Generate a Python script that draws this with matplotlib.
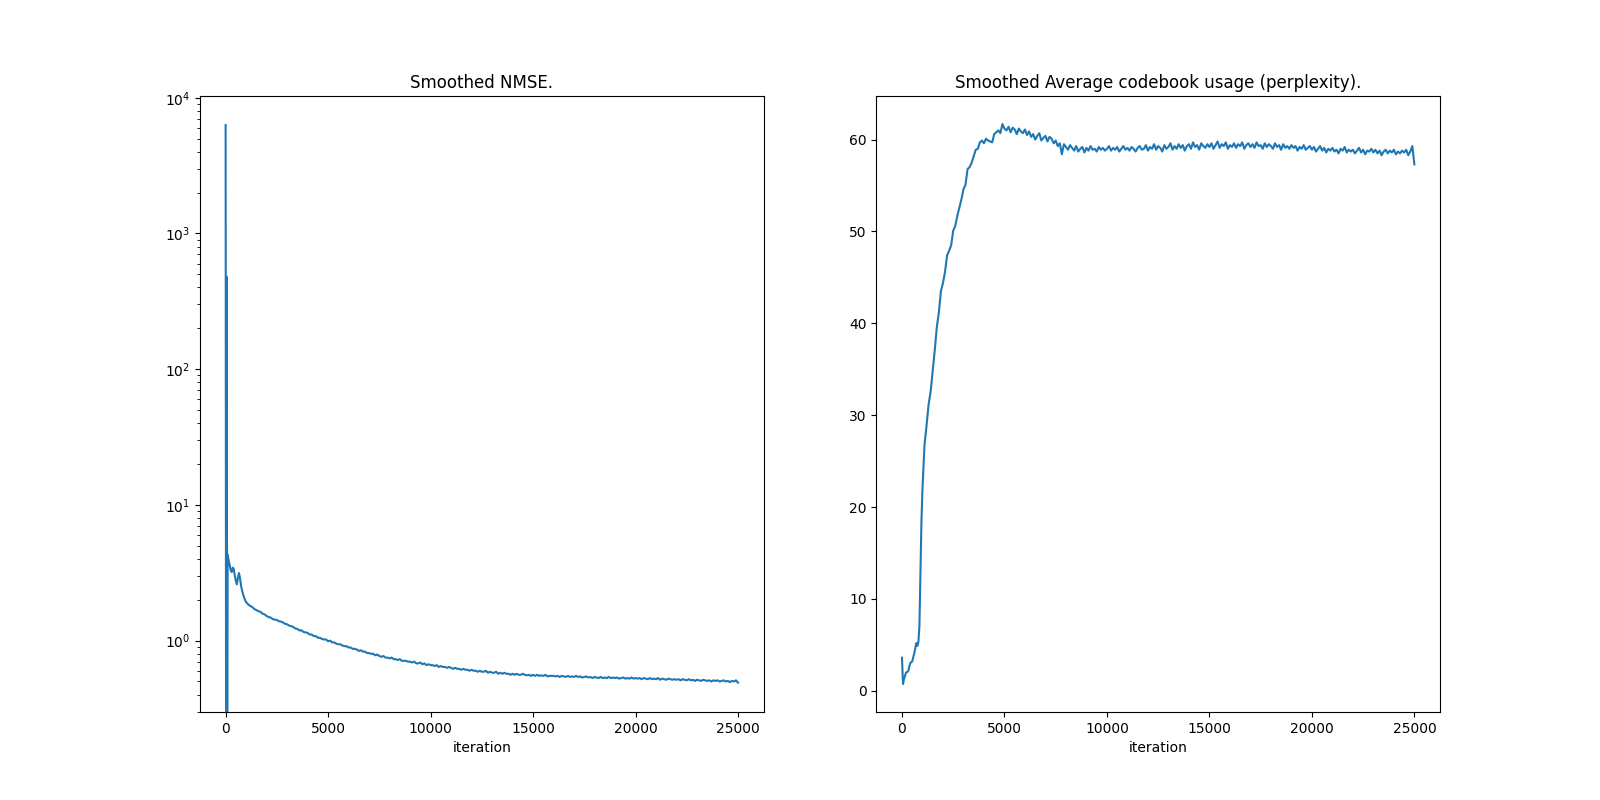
import numpy as np
import matplotlib
matplotlib.use('Agg')
import matplotlib.pyplot as plt

# NMSE, first iterations (irregular spacing)
nmse_head_iter = [0, 25, 50, 75, 100, 150, 200, 250, 300, 350, 400, 450, 500, 550,
                  600, 650, 700, 750, 800, 850, 900, 950]
nmse_head = [6300, 0.05, 480, 0.05, 4.3, 3.9, 3.6, 3.3, 3.2, 3.45, 3.35, 3.0, 2.75, 2.6,
             2.9, 3.15, 2.9, 2.55, 2.35, 2.2, 2.08, 2.0]

# NMSE, every 100 iterations from 1000 to 25000
nmse_tail = [
    1.92, 1.85, 1.80, 1.77, 1.71, 1.68, 1.65, 1.63, 1.58, 1.56,
    1.52, 1.49, 1.48, 1.44, 1.43, 1.42, 1.39, 1.38, 1.36, 1.33,
    1.32, 1.29, 1.28, 1.26, 1.23, 1.22, 1.19, 1.19, 1.16, 1.15,
    1.14, 1.11, 1.11, 1.08, 1.08, 1.05, 1.05, 1.03, 1.02, 1.02,
    0.99, 1.00, 0.97, 0.97, 0.95, 0.94, 0.94, 0.92, 0.91, 0.91,
    0.89, 0.89, 0.87, 0.87, 0.86, 0.84, 0.85, 0.83, 0.83, 0.81,
    0.81, 0.80, 0.80, 0.78, 0.79, 0.77, 0.76, 0.77, 0.75, 0.75,
    0.74, 0.75, 0.73, 0.73, 0.72, 0.73, 0.71, 0.71, 0.71, 0.70,
    0.70, 0.69, 0.70, 0.68, 0.68, 0.69, 0.67, 0.68, 0.66, 0.67,
    0.66, 0.66, 0.65, 0.66, 0.64, 0.65, 0.64, 0.64, 0.63, 0.64,
    0.63, 0.62, 0.63, 0.62, 0.62, 0.61, 0.62, 0.61, 0.61, 0.60,
    0.61, 0.60, 0.60, 0.59, 0.60, 0.59, 0.59, 0.60, 0.58, 0.59,
    0.58, 0.58, 0.59, 0.57, 0.58, 0.57, 0.58, 0.57, 0.57, 0.56,
    0.57, 0.56, 0.57, 0.56, 0.56, 0.57, 0.56, 0.555, 0.56, 0.55,
    0.56, 0.55, 0.56, 0.55, 0.555, 0.55, 0.56, 0.545, 0.55, 0.55,
    0.55, 0.545, 0.55, 0.54, 0.55, 0.545, 0.54, 0.55, 0.54, 0.545,
    0.54, 0.55, 0.54, 0.545, 0.535, 0.54, 0.545, 0.535, 0.54, 0.53,
    0.54, 0.535, 0.53, 0.54, 0.53, 0.535, 0.53, 0.54, 0.53, 0.535,
    0.53, 0.535, 0.525, 0.53, 0.535, 0.525, 0.53, 0.525, 0.535, 0.525,
    0.53, 0.525, 0.53, 0.52, 0.53, 0.525, 0.52, 0.53, 0.52, 0.525,
    0.52, 0.53, 0.515, 0.525, 0.52, 0.515, 0.525, 0.52, 0.515, 0.52,
    0.515, 0.52, 0.51, 0.52, 0.515, 0.51, 0.52, 0.51, 0.515, 0.505,
    0.515, 0.51, 0.505, 0.515, 0.51, 0.505, 0.51, 0.50, 0.51, 0.505,
    0.51, 0.50, 0.505, 0.51, 0.50, 0.505, 0.495, 0.505, 0.50, 0.51,
    0.49]

# perplexity, first iterations
ppl_head_iter = [0, 50, 100, 200, 300, 400, 500, 600, 700, 750, 800, 850, 900, 950]
ppl_head = [3.6, 0.74, 1.3, 2.0, 2.1, 3.0, 3.2, 4.1, 5.2, 4.9, 5.3, 7.0, 12.5, 18.5]

# perplexity, every 100 iterations from 1000 to 25000
ppl_tail = [
    22.0, 26.8, 28.9, 31.2, 32.6, 34.8, 37.1, 39.6, 41.2, 43.5,
    44.4, 45.6, 47.4, 47.9, 48.5, 50.1, 50.6, 51.7, 52.6, 53.5,
    54.6, 55.1, 56.8, 57.0, 57.5, 58.2, 58.9, 59.0, 59.7, 59.9,
    59.6, 60.1, 59.9, 59.8, 59.7, 60.6, 60.8, 61.0, 60.7, 61.7,
    61.2, 61.0, 61.4, 60.8, 61.3, 61.1, 60.6, 61.2, 60.9, 60.7,
    61.1, 60.5, 60.9, 60.3, 60.6, 60.0, 60.4, 60.7, 59.9, 60.2,
    60.4, 59.8, 60.3, 60.1, 59.6, 59.9, 59.3, 59.6, 58.4, 59.5,
    59.2, 58.9, 59.4, 59.1, 58.8, 59.3, 58.7, 59.0, 59.2, 58.6,
    59.1, 58.8, 59.3, 58.9, 59.0, 58.7, 59.2, 58.9, 59.1, 58.8,
    59.0, 59.3, 58.8, 59.1, 58.9, 59.2, 58.7, 59.0, 59.3, 58.9,
    59.1, 58.8, 59.2, 59.0, 58.7, 59.1, 59.3, 58.9, 59.0, 59.4,
    58.8, 59.2, 59.0, 59.5, 58.9, 59.3, 59.1, 58.7, 59.4, 59.0,
    59.2, 59.6, 58.9, 59.3, 59.0, 59.5, 59.1, 59.4, 58.8, 59.3,
    59.5, 59.0, 59.7, 59.2, 59.4, 58.9, 59.6, 59.3, 59.1, 59.5,
    59.2, 59.6, 59.0, 59.4, 59.8, 59.1, 59.5, 59.3, 59.7, 59.0,
    59.4, 59.2, 59.6, 59.1, 59.5, 59.3, 59.7, 59.0, 59.4, 59.6,
    59.2, 59.5, 59.1, 59.7, 59.3, 59.4, 59.0, 59.6, 59.2, 59.5,
    59.3, 59.0, 59.6, 59.2, 59.4, 58.9, 59.5, 59.1, 59.3, 59.0,
    59.4, 59.1, 59.3, 58.8, 59.2, 59.0, 59.4, 58.9, 59.1, 59.3,
    58.9, 59.2, 58.7, 59.0, 59.3, 58.8, 59.1, 58.6, 59.0, 58.8,
    59.1, 58.7, 58.9, 58.5, 59.0, 58.8, 59.2, 58.6, 58.9, 58.7,
    58.9, 58.5, 58.8, 59.1, 58.6, 58.9, 58.4, 58.8, 58.7, 59.0,
    58.6, 58.9, 58.5, 58.8, 58.3, 58.7, 58.9, 58.5, 58.8, 58.6,
    58.9, 58.4, 58.7, 58.5, 58.8, 58.6, 58.9, 58.3, 58.7, 59.3,
    57.3]

tail_iter = np.arange(1000, 25001, 100)

nmse_iter = np.concatenate([nmse_head_iter, tail_iter])
nmse = np.concatenate([nmse_head, nmse_tail])
ppl_iter = np.concatenate([ppl_head_iter, tail_iter])
ppl = np.concatenate([ppl_head, ppl_tail])

fig = plt.figure(figsize=(16, 8), dpi=100)

ax1 = plt.subplot(121)
ax1.plot(nmse_iter, nmse)
ax1.set_yscale('log')
ax1.set_ylim(0.298, 1.03e4)
ax1.set_title('Smoothed NMSE.')
ax1.set_xlabel('iteration')

ax2 = plt.subplot(122)
ax2.plot(ppl_iter, ppl)
ax2.set_title('Smoothed Average codebook usage (perplexity).')
ax2.set_xlabel('iteration')

plt.savefig('out.png', dpi=100)
